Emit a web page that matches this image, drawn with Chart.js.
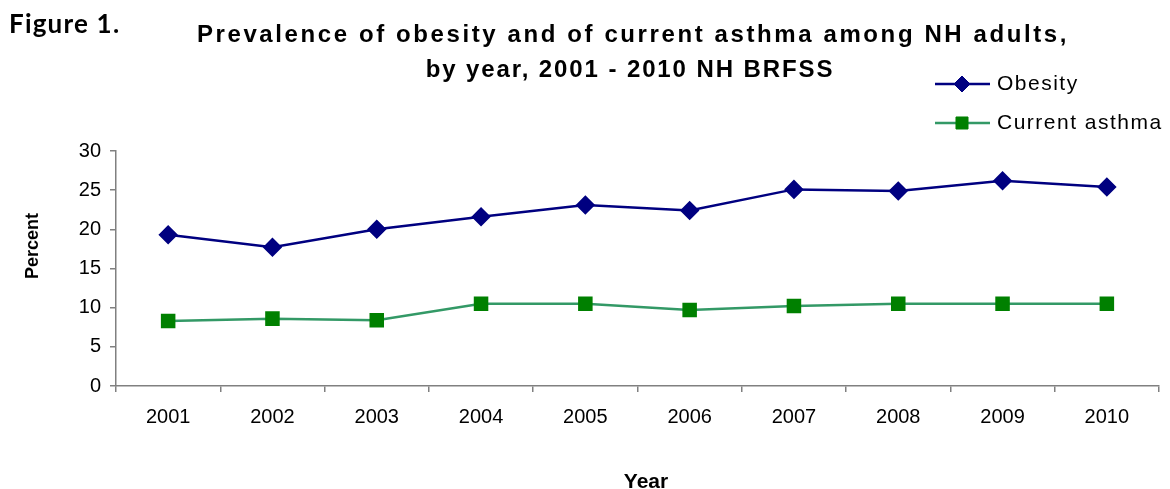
<!DOCTYPE html>
<html>
<head>
<meta charset="utf-8">
<script src="https://cdn.jsdelivr.net/npm/chart.js@4/dist/chart.umd.min.js"></script>
<style>
  html, body { margin: 0; padding: 0; background: #fff; }
  #wrap { width: 1170px; height: 489px; }
</style>
</head>
<body>
<div id="wrap"><canvas id="chart" width="1170" height="489"></canvas></div>
<script>
const years = ['2001', '2002', '2003', '2004', '2005', '2006', '2007', '2008', '2009', '2010'];
const obesity = [19.3, 17.7, 20.0, 21.6, 23.1, 22.4, 25.1, 24.9, 26.2, 25.4];
const asthma = [8.3, 8.6, 8.4, 10.5, 10.5, 9.7, 10.2, 10.5, 10.5, 10.5];
const seriesNames = ['Obesity', 'Current asthma'];
const titleLines = ['Prevalence of obesity and of current asthma among NH adults,', 'by year, 2001 - 2010 NH BRFSS'];

const FONT = '"Liberation Sans", Arial, sans-serif';
const AXIS_GREY = '#808080';

// title, figure label, axis captions and the stacked legend
const decorations = {
  id: 'decorations',
  afterDraw(chart) {
    const ctx = chart.ctx;
    ctx.save();
    ctx.fillStyle = '#000';
    ctx.textBaseline = 'alphabetic';

    ctx.font = 'bold 26px Lato, "Open Sans", sans-serif';
    ctx.letterSpacing = '1.2px';
    ctx.textAlign = 'left';
    ctx.fillText('Figure 1.', 9, 33);

    ctx.font = 'bold 24px ' + FONT;
    ctx.textAlign = 'center';
    ctx.letterSpacing = '2.6px';
    ctx.fillText(titleLines[0], 633, 42);
    ctx.letterSpacing = '1.9px';
    ctx.fillText(titleLines[1], 630, 77);

    ctx.letterSpacing = '0px';
    ctx.font = 'bold 21px ' + FONT;
    ctx.fillText('Year', 646, 488);

    ctx.save();
    ctx.translate(38, 246);
    ctx.rotate(-Math.PI / 2);
    ctx.font = 'bold 18px ' + FONT;
    ctx.fillText('Percent', 0, 0);
    ctx.restore();

    // legend, one row per dataset
    const rows = [84, 123];
    chart.data.datasets.forEach((ds, i) => {
      const y = rows[i];
      ctx.strokeStyle = ds.borderColor;
      ctx.lineWidth = ds.borderWidth;
      ctx.beginPath();
      ctx.moveTo(935, y);
      ctx.lineTo(990, y);
      ctx.stroke();
      ctx.fillStyle = ds.pointBackgroundColor;
      ctx.strokeStyle = ds.pointBorderColor;
      ctx.lineWidth = 1;
      Chart.helpers.drawPoint(ctx, { pointStyle: ds.pointStyle, radius: ds.pointRadius, borderWidth: 1, rotation: 0 }, 962, y);
      ctx.fillStyle = '#000';
      ctx.font = '21px ' + FONT;
      ctx.letterSpacing = '1.5px';
      ctx.textAlign = 'left';
      ctx.textBaseline = 'middle';
      ctx.fillText(ds.label, 997, y);
    });
    ctx.restore();
  }
};

new Chart(document.getElementById('chart'), {
  type: 'line',
  data: {
    labels: years,
    datasets: [
      {
        label: seriesNames[0],
        data: obesity,
        borderColor: '#000080',
        borderWidth: 2.5,
        pointStyle: 'rectRot',
        pointRadius: 8,
        pointBackgroundColor: '#000080',
        pointBorderColor: '#000080',
        tension: 0
      },
      {
        label: seriesNames[1],
        data: asthma,
        borderColor: '#339966',
        borderWidth: 2.5,
        pointStyle: 'rect',
        pointRadius: 8.5,
        pointBackgroundColor: '#008000',
        pointBorderColor: '#008000',
        tension: 0
      }
    ]
  },
  options: {
    responsive: false,
    animation: false,
    layout: { padding: { top: 151, right: 5, bottom: 0, left: 0 } },
    plugins: {
      legend: { display: false },
      title: { display: false },
      tooltip: { enabled: false }
    },
    scales: {
      x: {
        offset: true,
        grid: { offset: true, drawOnChartArea: false, drawTicks: true, tickLength: 6, color: AXIS_GREY, lineWidth: 1.5 },
        border: { display: true, color: AXIS_GREY, width: 1.5 },
        ticks: { color: '#000', font: { family: FONT, size: 20 }, padding: 13, maxRotation: 0 },
        afterFit: s => { s.height = 103; }
      },
      y: {
        min: 0,
        max: 30,
        ticks: { stepSize: 5, color: '#000', font: { family: FONT, size: 20 }, padding: 9 },
        grid: { drawOnChartArea: false, drawTicks: true, tickLength: 6, color: AXIS_GREY, lineWidth: 1.5 },
        border: { display: true, color: AXIS_GREY, width: 1.5 },
        afterFit: s => { s.width = 116; }
      }
    }
  },
  plugins: [decorations]
});
</script>
</body>
</html>
